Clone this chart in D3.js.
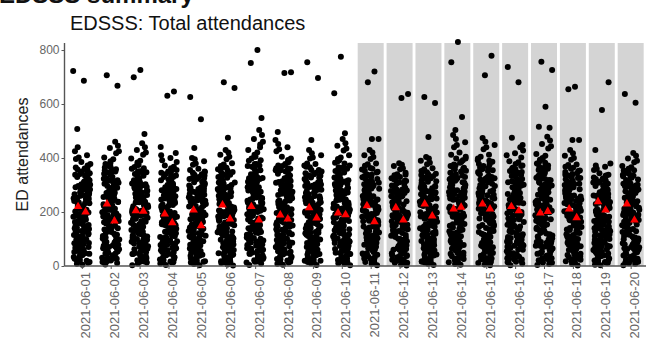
<!DOCTYPE html>
<html>
<head>
<meta charset="utf-8">
<script src="https://cdn.jsdelivr.net/npm/d3@7"></script>
<style>
  body { margin: 0; background: #fff; }
  svg { display: block; font-family: 'Liberation Sans', Arial, sans-serif; }
</style>
</head>
<body>
<svg id="chart" width="646" height="345"></svg>
<script>
const days = ['2021-06-01', '2021-06-02', '2021-06-03', '2021-06-04', '2021-06-05',
    '2021-06-06', '2021-06-07', '2021-06-08', '2021-06-09', '2021-06-10',
    '2021-06-11', '2021-06-12', '2021-06-13', '2021-06-14', '2021-06-15',
    '2021-06-16', '2021-06-17', '2021-06-18', '2021-06-19', '2021-06-20'];

// days shaded grey in the panel
const shadedDays = days.slice(10);

const yTicks = [0, 200, 400, 600, 800];

// high attendances that stand clear of each day's cloud
const outliers = [
    [722, 686, 507], [707, 668], [726, 699, 489], [646, 631, 441], [626, 544, 437],
    [681, 659, 475], [800, 752, 548], [718, 715, 496], [755, 696, 467], [775, 640, 492],
    [720, 681, 470, 470], [637, 622], [626, 604, 478], [830, 755, 552, 504], [779, 707],
    [737, 681, 475, 448], [757, 726, 590, 516, 512], [664, 655, 467, 467], [681, 578, 430], [637, 605]
];

// red triangle markers, two per day
const redMarks = [
    [220, 200], [230, 167], [205, 203], [193, 160], [207, 149],
    [226, 174], [220, 170], [189, 174], [216, 178], [196, 190],
    [223, 164], [216, 170], [230, 185], [211, 218], [230, 211],
    [220, 205], [196, 202], [211, 179], [238, 207], [230, 170]
];

// the dense body of each day's points, full range
const cloud01 = [12, 385, 140, 262, 55, 318, 201, 97, 410, 176, 33, 289, 228, 120, 350, 68, 245, 190, 301, 150, 8, 372, 214, 84, 333, 160, 270, 41, 396, 236, 108, 182, 312, 59, 255, 130, 425, 205, 91, 344, 168, 23, 279, 222, 115, 361, 74, 248, 195, 292, 146, 18, 378, 210, 80, 326, 157, 266, 47, 402, 232, 104, 186, 307, 63, 251, 127, 440, 198, 88, 338, 171, 28, 283, 219, 112, 356, 77, 241, 184, 296, 137, 5, 365, 208, 101];
const cloud02 = [20, 402, 151, 275, 62, 330, 210, 93, 437, 183, 38, 296, 237, 126, 365, 71, 258, 199, 312, 158, 11, 388, 222, 87, 346, 167, 281, 46, 418, 243, 111, 190, 322, 54, 264, 135, 460, 213, 98, 355, 174, 27, 288, 229, 119, 372, 79, 252, 204, 303, 149, 15, 395, 217, 83, 339, 162, 271, 50, 425, 240, 106, 194, 317, 66, 260, 131, 445, 207, 91, 350, 178, 31, 292, 226, 116, 380, 75, 248, 188, 308, 143, 6, 358, 215, 102];
const cloud03 = [9, 398, 146, 268, 51, 325, 206, 99, 430, 179, 36, 293, 233, 123, 360, 70, 254, 196, 306, 153, 17, 383, 219, 86, 341, 164, 277, 44, 412, 240, 109, 187, 318, 57, 261, 133, 455, 211, 95, 351, 173, 25, 285, 225, 118, 367, 78, 250, 200, 299, 147, 13, 390, 215, 82, 335, 160, 272, 48, 420, 236, 105, 191, 313, 64, 257, 129, 440, 203, 90, 346, 176, 30, 289, 221, 113, 375, 73, 245, 185, 303, 139, 3, 355, 209, 97];
const cloud04 = [14, 372, 138, 255, 52, 305, 198, 92, 400, 171, 32, 278, 222, 117, 340, 66, 241, 186, 290, 148, 9, 362, 209, 81, 320, 155, 262, 40, 385, 230, 103, 178, 300, 58, 248, 127, 419, 201, 88, 330, 165, 24, 270, 217, 110, 350, 73, 236, 190, 285, 142, 17, 368, 205, 78, 315, 152, 258, 45, 392, 226, 100, 182, 296, 62, 244, 124, 410, 194, 85, 335, 168, 28, 274, 213, 107, 345, 70, 233, 180, 281, 134, 4, 356, 202, 96];
const cloud05 = [18, 360, 135, 248, 49, 298, 192, 89, 388, 166, 30, 270, 216, 112, 330, 63, 236, 181, 282, 143, 7, 350, 204, 78, 312, 150, 255, 38, 375, 224, 99, 173, 292, 55, 242, 121, 400, 196, 84, 322, 160, 22, 264, 210, 106, 340, 69, 230, 185, 276, 138, 14, 356, 200, 75, 306, 147, 250, 42, 380, 220, 96, 177, 288, 59, 239, 118, 395, 189, 81, 326, 163, 26, 267, 207, 103, 335, 66, 227, 175, 273, 130, 3, 345, 198, 93];
const cloud06 = [11, 381, 142, 260, 54, 316, 203, 95, 412, 174, 35, 285, 226, 119, 348, 67, 247, 192, 298, 151, 6, 370, 212, 83, 330, 158, 268, 43, 395, 234, 106, 184, 309, 60, 253, 128, 430, 206, 90, 340, 170, 25, 280, 220, 113, 358, 75, 244, 197, 290, 145, 16, 376, 208, 79, 325, 156, 264, 47, 405, 230, 102, 188, 304, 64, 250, 125, 420, 200, 87, 336, 167, 29, 276, 217, 110, 352, 72, 240, 183, 294, 136, 2, 364, 205, 99];
const cloud07 = [16, 430, 158, 290, 60, 350, 222, 101, 470, 192, 37, 318, 250, 131, 390, 73, 272, 210, 330, 165, 9, 412, 235, 88, 368, 176, 298, 46, 450, 258, 116, 200, 340, 56, 280, 140, 504, 226, 94, 378, 184, 27, 305, 242, 122, 398, 80, 266, 214, 322, 160, 13, 420, 230, 85, 360, 172, 292, 50, 460, 254, 112, 205, 335, 66, 276, 136, 485, 218, 97, 372, 188, 31, 310, 246, 126, 405, 77, 262, 196, 326, 150, 4, 440, 228, 106];
const cloud08 = [13, 405, 150, 277, 57, 335, 212, 96, 440, 183, 34, 300, 240, 125, 370, 70, 261, 201, 315, 160, 8, 393, 225, 86, 350, 170, 283, 45, 425, 246, 112, 192, 325, 55, 266, 134, 467, 216, 92, 360, 177, 26, 292, 232, 118, 378, 77, 255, 205, 308, 152, 14, 398, 220, 82, 343, 165, 275, 48, 432, 243, 108, 196, 320, 63, 263, 130, 452, 209, 89, 355, 180, 30, 296, 228, 115, 385, 74, 251, 190, 311, 145, 5, 362, 218, 100];
const cloud09 = [19, 378, 144, 258, 50, 312, 205, 98, 410, 172, 33, 288, 229, 121, 345, 65, 249, 190, 300, 154, 10, 372, 214, 80, 328, 161, 270, 41, 398, 236, 104, 186, 306, 58, 255, 126, 430, 209, 88, 338, 168, 21, 282, 223, 111, 356, 76, 243, 195, 293, 147, 15, 380, 210, 77, 322, 158, 266, 44, 402, 232, 101, 180, 302, 62, 251, 123, 418, 202, 85, 334, 174, 28, 278, 218, 108, 350, 70, 238, 181, 297, 139, 4, 366, 207, 95];
const cloud10 = [10, 410, 152, 280, 59, 338, 215, 97, 445, 186, 35, 304, 243, 127, 372, 72, 263, 203, 318, 162, 7, 396, 227, 87, 352, 172, 286, 44, 428, 249, 113, 194, 328, 56, 268, 136, 470, 218, 93, 362, 179, 25, 295, 235, 120, 382, 79, 258, 208, 311, 154, 15, 402, 222, 83, 346, 167, 278, 49, 435, 245, 109, 198, 322, 64, 265, 132, 455, 211, 90, 358, 182, 29, 299, 231, 116, 388, 75, 254, 192, 314, 147, 3, 366, 220, 103];
const cloud11 = [15, 380, 143, 259, 53, 314, 204, 96, 410, 173, 34, 286, 227, 120, 346, 66, 248, 191, 299, 152, 8, 371, 213, 82, 329, 160, 269, 42, 396, 235, 105, 185, 308, 59, 254, 127, 430, 207, 89, 339, 169, 24, 281, 221, 112, 357, 74, 242, 196, 291, 146, 12, 377, 209, 78, 324, 157, 265, 46, 404, 231, 103, 187, 303, 63, 251, 124, 420, 201, 86, 335, 166, 30, 277, 216, 109, 353, 71, 239, 182, 295, 137, 3, 363, 206, 98];
const cloud12 = [12, 345, 130, 236, 47, 284, 184, 86, 370, 158, 29, 258, 206, 107, 315, 60, 225, 172, 268, 136, 6, 336, 194, 74, 298, 143, 243, 37, 358, 214, 95, 165, 278, 53, 231, 115, 381, 188, 80, 306, 153, 21, 252, 200, 101, 325, 66, 219, 176, 262, 131, 14, 340, 191, 71, 292, 140, 238, 40, 362, 210, 92, 168, 274, 56, 228, 112, 375, 181, 77, 310, 155, 25, 255, 197, 98, 320, 63, 216, 166, 260, 124, 2, 330, 186, 89];
const cloud13 = [17, 362, 137, 250, 50, 300, 194, 91, 390, 167, 31, 272, 218, 114, 332, 64, 238, 183, 284, 145, 8, 352, 206, 79, 314, 152, 257, 39, 377, 226, 100, 175, 294, 56, 244, 122, 404, 198, 85, 324, 162, 23, 266, 212, 108, 342, 70, 232, 187, 278, 140, 13, 358, 202, 76, 308, 149, 252, 43, 382, 222, 97, 179, 290, 60, 241, 119, 398, 191, 82, 328, 164, 27, 269, 209, 105, 337, 67, 229, 177, 275, 132, 4, 347, 199, 94];
const cloud14 = [14, 420, 155, 286, 58, 345, 218, 99, 458, 189, 36, 310, 247, 129, 382, 72, 268, 207, 325, 163, 7, 405, 231, 87, 360, 174, 292, 45, 440, 253, 114, 197, 335, 57, 274, 138, 485, 222, 93, 370, 181, 26, 300, 239, 121, 392, 78, 262, 211, 318, 156, 12, 412, 226, 84, 353, 169, 284, 49, 448, 250, 110, 201, 330, 65, 271, 134, 470, 215, 90, 365, 185, 30, 305, 235, 117, 398, 76, 259, 194, 321, 149, 5, 376, 224, 104];
const cloud15 = [11, 412, 152, 281, 56, 340, 214, 98, 448, 186, 35, 305, 243, 126, 376, 71, 264, 204, 320, 161, 6, 398, 228, 85, 355, 172, 288, 44, 432, 250, 112, 195, 330, 57, 270, 136, 474, 219, 92, 364, 179, 25, 296, 236, 119, 386, 77, 259, 209, 313, 153, 13, 405, 223, 82, 348, 167, 280, 48, 440, 247, 108, 199, 325, 64, 267, 132, 460, 212, 89, 360, 183, 29, 300, 232, 115, 392, 74, 256, 192, 316, 146, 3, 370, 221, 101];
const cloud16 = [16, 388, 146, 264, 55, 320, 208, 97, 418, 177, 34, 292, 232, 122, 352, 68, 252, 195, 305, 155, 9, 378, 216, 84, 336, 163, 274, 43, 402, 239, 107, 189, 314, 60, 258, 129, 440, 210, 91, 345, 172, 24, 286, 226, 114, 364, 76, 246, 199, 297, 149, 14, 384, 212, 80, 330, 160, 270, 47, 410, 235, 104, 191, 310, 63, 255, 126, 428, 204, 88, 342, 170, 29, 282, 222, 111, 358, 72, 243, 186, 301, 140, 3, 370, 209, 100];
const cloud17 = [13, 415, 154, 283, 57, 342, 216, 98, 452, 188, 36, 308, 245, 128, 380, 71, 266, 205, 322, 162, 7, 400, 229, 86, 358, 173, 290, 45, 435, 251, 113, 196, 332, 58, 272, 137, 479, 220, 92, 367, 180, 25, 298, 237, 120, 388, 78, 260, 210, 315, 155, 12, 408, 224, 83, 350, 168, 282, 48, 444, 248, 109, 200, 327, 65, 269, 133, 465, 213, 89, 362, 184, 29, 302, 233, 116, 395, 75, 257, 193, 318, 148, 4, 372, 223, 103];
const cloud18 = [18, 376, 141, 257, 51, 312, 202, 94, 408, 171, 32, 284, 225, 118, 344, 64, 246, 189, 297, 150, 7, 368, 211, 80, 326, 157, 267, 40, 394, 233, 103, 183, 305, 57, 252, 125, 430, 205, 87, 336, 166, 22, 279, 219, 110, 354, 73, 240, 194, 289, 144, 11, 374, 207, 77, 321, 155, 262, 45, 400, 229, 100, 185, 300, 61, 249, 122, 418, 199, 84, 332, 164, 27, 274, 214, 107, 348, 69, 237, 180, 292, 135, 2, 360, 203, 96];
const cloud19 = [13, 344, 129, 235, 46, 283, 183, 85, 368, 157, 28, 257, 205, 106, 313, 59, 224, 171, 267, 135, 5, 334, 193, 73, 297, 142, 242, 36, 356, 213, 94, 164, 276, 52, 230, 114, 380, 187, 79, 305, 152, 20, 251, 199, 100, 324, 65, 218, 175, 261, 130, 15, 338, 190, 70, 291, 139, 237, 39, 360, 209, 91, 167, 273, 55, 227, 111, 372, 180, 76, 309, 154, 24, 254, 196, 97, 318, 62, 215, 165, 259, 123, 3, 328, 185, 88];
const cloud20 = [10, 370, 137, 254, 51, 306, 197, 93, 398, 170, 31, 277, 221, 116, 338, 65, 240, 185, 289, 147, 8, 360, 208, 80, 319, 154, 261, 39, 384, 229, 102, 177, 299, 57, 247, 126, 419, 200, 87, 329, 164, 23, 269, 216, 109, 349, 72, 235, 189, 284, 141, 16, 366, 204, 77, 314, 151, 257, 44, 390, 225, 99, 181, 295, 61, 243, 123, 408, 193, 84, 334, 167, 27, 273, 212, 106, 344, 69, 232, 179, 280, 133, 3, 355, 201, 95];

// more points in the packed core of each day
const core01 = [45, 298, 172, 87, 341, 226, 131, 265, 19, 312, 189, 73, 357, 244, 152, 98, 284, 207, 36, 330, 163, 117, 250, 60, 303, 218, 142, 27, 370, 193, 81, 276, 235, 125, 52, 320, 180, 93, 260, 211, 156, 15, 345, 232, 108, 290, 167, 66, 308, 198, 135, 42, 273, 221, 149, 85, 335, 176, 111, 24, 253, 202, 70, 317];
const core02 = [50, 305, 178, 92, 352, 231, 137, 270, 23, 318, 195, 77, 366, 250, 157, 103, 290, 212, 40, 338, 168, 121, 256, 64, 310, 224, 147, 31, 378, 199, 86, 282, 241, 129, 56, 327, 185, 97, 266, 216, 161, 18, 355, 238, 112, 296, 172, 70, 314, 204, 140, 46, 279, 227, 154, 89, 342, 181, 115, 28, 259, 208, 74, 323];
const core03 = [42, 301, 175, 90, 347, 228, 134, 268, 21, 315, 192, 75, 362, 247, 155, 100, 287, 210, 38, 334, 166, 119, 253, 62, 306, 220, 145, 29, 374, 196, 83, 279, 238, 127, 54, 323, 182, 95, 263, 214, 159, 16, 350, 235, 110, 293, 170, 68, 311, 201, 138, 44, 276, 224, 152, 87, 338, 178, 113, 26, 256, 205, 72, 320];
const core04 = [40, 285, 165, 83, 330, 218, 126, 255, 17, 300, 183, 70, 345, 236, 147, 95, 272, 200, 34, 318, 158, 112, 242, 58, 292, 212, 138, 25, 356, 187, 79, 265, 228, 121, 50, 308, 174, 90, 250, 205, 151, 14, 335, 224, 104, 280, 162, 64, 298, 192, 130, 41, 262, 215, 144, 82, 322, 170, 107, 22, 246, 196, 67, 305];
const core05 = [38, 278, 160, 80, 322, 212, 122, 248, 16, 292, 178, 68, 338, 230, 143, 92, 266, 195, 33, 310, 154, 109, 236, 56, 285, 206, 134, 24, 348, 182, 76, 258, 222, 118, 48, 300, 169, 87, 244, 200, 147, 13, 326, 218, 101, 273, 157, 62, 290, 187, 127, 40, 255, 209, 140, 79, 314, 166, 104, 21, 240, 191, 65, 296];
const core06 = [44, 294, 170, 86, 338, 224, 130, 262, 18, 309, 187, 72, 354, 242, 150, 97, 281, 205, 35, 327, 161, 115, 248, 59, 300, 216, 140, 26, 366, 191, 80, 273, 233, 123, 51, 317, 178, 92, 258, 209, 154, 14, 342, 230, 106, 287, 165, 65, 305, 196, 133, 41, 270, 219, 147, 84, 332, 174, 109, 23, 250, 200, 69, 314];
const core07 = [48, 320, 185, 94, 370, 245, 141, 285, 21, 336, 203, 78, 392, 262, 163, 104, 305, 222, 39, 355, 176, 124, 270, 64, 325, 233, 152, 29, 405, 208, 87, 296, 252, 134, 55, 345, 192, 100, 280, 226, 168, 17, 378, 248, 116, 312, 180, 71, 330, 214, 145, 45, 292, 236, 160, 91, 362, 188, 119, 26, 275, 218, 75, 340];
const core08 = [46, 308, 178, 90, 355, 234, 136, 274, 20, 322, 196, 76, 372, 252, 157, 101, 293, 214, 37, 342, 170, 120, 260, 62, 314, 225, 147, 28, 385, 202, 84, 285, 243, 129, 53, 332, 186, 96, 268, 218, 162, 16, 362, 240, 112, 300, 175, 69, 318, 207, 140, 43, 281, 229, 154, 88, 350, 182, 116, 25, 263, 210, 73, 328];
const core09 = [43, 296, 171, 88, 340, 225, 131, 263, 19, 310, 188, 74, 356, 243, 151, 98, 282, 206, 36, 328, 162, 116, 249, 60, 302, 217, 141, 27, 368, 192, 81, 274, 234, 124, 52, 318, 179, 93, 259, 210, 155, 15, 344, 231, 107, 288, 166, 66, 306, 197, 134, 42, 271, 220, 148, 85, 334, 175, 110, 24, 251, 201, 70, 315];
const core10 = [47, 312, 180, 92, 360, 238, 138, 278, 22, 326, 199, 77, 380, 256, 159, 102, 297, 217, 38, 346, 172, 122, 264, 63, 318, 228, 149, 30, 392, 204, 85, 289, 246, 131, 54, 336, 188, 98, 272, 221, 164, 17, 366, 243, 114, 304, 177, 70, 322, 209, 142, 44, 285, 232, 156, 89, 355, 184, 118, 26, 267, 213, 74, 332];
const core11 = [52, 287, 168, 95, 333, 219, 126, 258, 25, 304, 184, 79, 349, 238, 146, 104, 276, 202, 41, 322, 158, 112, 244, 66, 296, 213, 137, 31, 360, 189, 86, 269, 229, 119, 57, 312, 175, 99, 254, 206, 151, 20, 338, 226, 102, 283, 163, 71, 300, 193, 130, 47, 265, 216, 143, 90, 328, 171, 106, 28, 246, 197, 76, 309];
const core12 = [40, 270, 157, 80, 310, 206, 118, 240, 16, 282, 170, 66, 324, 221, 138, 89, 257, 188, 32, 298, 148, 105, 228, 54, 275, 197, 128, 23, 338, 175, 73, 250, 213, 112, 47, 290, 163, 84, 236, 192, 142, 12, 316, 210, 98, 265, 152, 60, 280, 180, 122, 38, 246, 201, 135, 77, 304, 160, 100, 20, 232, 184, 63, 286];
const core13 = [42, 282, 163, 83, 325, 214, 124, 252, 17, 296, 179, 69, 340, 232, 145, 93, 268, 197, 34, 312, 155, 110, 238, 57, 288, 207, 134, 25, 352, 183, 77, 262, 224, 117, 49, 303, 171, 88, 247, 201, 148, 13, 330, 220, 102, 277, 159, 63, 293, 189, 128, 40, 258, 211, 141, 80, 318, 167, 105, 22, 242, 193, 66, 299];
const core14 = [49, 316, 182, 93, 364, 241, 139, 281, 21, 331, 200, 78, 386, 259, 161, 103, 301, 220, 39, 350, 174, 123, 267, 64, 321, 230, 150, 29, 398, 206, 86, 292, 249, 132, 55, 340, 190, 99, 276, 223, 166, 17, 372, 245, 115, 308, 178, 70, 326, 211, 143, 45, 288, 234, 158, 90, 358, 186, 120, 26, 271, 215, 75, 336];
const core15 = [47, 310, 179, 91, 358, 236, 137, 276, 20, 324, 197, 76, 378, 254, 158, 101, 295, 216, 38, 344, 171, 121, 262, 62, 316, 226, 148, 28, 390, 203, 84, 287, 245, 130, 53, 334, 187, 97, 270, 219, 163, 16, 364, 241, 113, 302, 176, 69, 320, 208, 141, 44, 283, 230, 155, 88, 352, 183, 117, 25, 265, 211, 73, 330];
const core16 = [45, 300, 173, 89, 345, 228, 133, 267, 19, 314, 191, 75, 360, 246, 153, 99, 285, 209, 36, 333, 165, 118, 252, 61, 306, 220, 143, 27, 372, 195, 82, 278, 237, 126, 52, 322, 181, 94, 262, 213, 157, 15, 348, 234, 109, 292, 169, 67, 310, 200, 136, 43, 275, 223, 150, 86, 338, 178, 112, 24, 255, 204, 71, 318];
const core17 = [48, 312, 181, 92, 360, 238, 138, 278, 21, 327, 199, 77, 382, 256, 160, 102, 298, 218, 39, 347, 173, 122, 264, 63, 319, 228, 149, 29, 394, 205, 85, 290, 247, 131, 54, 337, 189, 98, 273, 222, 165, 17, 368, 243, 114, 305, 177, 70, 323, 210, 142, 45, 286, 232, 157, 89, 356, 185, 118, 26, 268, 213, 74, 333];
const core18 = [43, 293, 169, 86, 338, 223, 130, 261, 18, 308, 186, 73, 352, 241, 150, 97, 280, 204, 35, 326, 161, 115, 247, 59, 300, 215, 140, 26, 364, 190, 80, 272, 232, 123, 51, 316, 177, 92, 257, 208, 154, 14, 341, 229, 106, 286, 165, 65, 304, 195, 133, 41, 269, 218, 147, 84, 331, 173, 109, 23, 249, 199, 69, 312];
const core19 = [39, 268, 155, 79, 308, 204, 117, 238, 15, 280, 168, 65, 322, 219, 137, 88, 255, 186, 31, 296, 146, 104, 226, 53, 273, 195, 127, 22, 335, 173, 72, 248, 211, 111, 46, 288, 161, 83, 234, 190, 140, 12, 314, 208, 97, 263, 150, 59, 278, 178, 121, 37, 244, 199, 133, 76, 302, 158, 99, 19, 230, 182, 62, 284];
const core20 = [41, 283, 164, 83, 327, 216, 125, 253, 17, 298, 180, 70, 342, 234, 146, 94, 270, 198, 34, 314, 156, 111, 240, 57, 290, 209, 135, 25, 354, 185, 77, 263, 226, 118, 49, 305, 172, 89, 249, 203, 149, 13, 332, 222, 103, 279, 160, 63, 295, 190, 129, 40, 260, 212, 142, 80, 320, 168, 106, 22, 244, 194, 66, 301];

const clouds = [cloud01, cloud02, cloud03, cloud04, cloud05, cloud06, cloud07, cloud08, cloud09, cloud10,
    cloud11, cloud12, cloud13, cloud14, cloud15, cloud16, cloud17, cloud18, cloud19, cloud20];
const cores = [core01, core02, core03, core04, core05, core06, core07, core08, core09, core10,
    core11, core12, core13, core14, core15, core16, core17, core18, core19, core20];

const margin = { top: 43, right: -2, bottom: 79, left: 64.5 };
const width = 646;
const height = 345;

const svg = d3.select('#chart');

const x = d3.scalePoint()
    .domain(days)
    .range([margin.left, width - margin.right])
    .padding(0.6);

const y = d3.scaleLinear()
    .domain([0, 826])
    .range([height - margin.bottom, margin.top]);

const step = x.step();

// deterministic jitter so points of one day spread across its column
function jitter(i, d, amount) {
    const f = (i * 0.6180339887 + d * 0.2718) % 1;
    return (f * 2 - 1) * amount * step;
}

// grey panels behind the later days
svg.append('g')
    .attr('class', 'panels')
    .selectAll('rect')
    .data(shadedDays)
    .enter()
    .append('rect')
        .attr('x', d => x(d) - 0.45 * step)
        .attr('y', margin.top)
        .attr('width', 0.9 * step)
        .attr('height', y(0) - margin.top)
        .attr('fill', '#d4d4d4');

// flatten to one point per attendance value
const points = [];
days.forEach((day, d) => {
    outliers[d].concat(clouds[d]).forEach((v, i) => {
        points.push({ day: day, value: v, dx: jitter(i, d, 0.3) });
    });
    cores[d].forEach((v, i) => {
        points.push({ day: day, value: v, dx: jitter(i * 3 + 1, d + 5, 0.27) });
    });
});

svg.append('g')
    .attr('class', 'points')
    .selectAll('circle')
    .data(points)
    .enter()
    .append('circle')
        .attr('cx', d => x(d.day) + d.dx)
        .attr('cy', d => y(d.value))
        .attr('r', 3)
        .attr('fill', '#000');

const marks = [];
days.forEach((day, d) => {
    redMarks[d].forEach((v, i) => {
        marks.push({ day: day, value: v, dx: (i === 0 ? -0.13 : 0.13) * step });
    });
});

svg.append('g')
    .attr('class', 'marks')
    .selectAll('path')
    .data(marks)
    .enter()
    .append('path')
        .attr('d', d3.symbol().type(d3.symbolTriangle).size(32))
        .attr('transform', d => `translate(${x(d.day) + d.dx},${y(d.value)})`)
        .attr('fill', '#ff0000');

// axes
const yAxis = svg.append('g')
    .attr('transform', `translate(${margin.left},0)`)
    .call(d3.axisLeft(y).tickValues(yTicks).tickSize(3).tickPadding(2));

const xAxis = svg.append('g')
    .attr('transform', `translate(0,${y(0)})`)
    .call(d3.axisBottom(x).tickSize(3).tickFormat(''));

[yAxis, xAxis].forEach(g => {
    g.select('.domain').attr('stroke', '#555').attr('stroke-width', 1.4);
    g.selectAll('.tick line').attr('stroke', '#555');
});
yAxis.select('.domain').attr('d', `M0,${margin.top}V${y(0)}`);
xAxis.select('.domain').attr('d', `M${margin.left},0H${width}`);

yAxis.selectAll('.tick text')
    .attr('fill', '#666')
    .style('font-size', '12px');

// rotated date labels
svg.append('g')
    .attr('class', 'x-labels')
    .selectAll('text')
    .data(days)
    .enter()
    .append('text')
        .attr('transform', d => `translate(${x(d) + 4},${y(0) + 6}) rotate(-90)`)
        .attr('text-anchor', 'end')
        .attr('dy', '0.35em')
        .attr('fill', '#666')
        .style('font-size', '13px')
        .text(d => d);

svg.append('text')
    .attr('transform', `translate(22,${(margin.top + y(0)) / 2}) rotate(-90)`)
    .attr('text-anchor', 'middle')
    .attr('dy', '0.35em')
    .attr('fill', '#222')
    .style('font-size', '16px')
    .text('ED attendances');

svg.append('text')
    .attr('x', 70)
    .attr('y', 30)
    .attr('fill', '#111')
    .style('font-size', '20px')
    .text('EDSSS: Total attendances');

// heading above, cut off by the top edge as in the source
svg.append('text')
    .attr('x', -1)
    .attr('y', 3)
    .attr('fill', '#111')
    .style('font-size', '24px')
    .style('font-weight', 'bold')
    .text('EDSSS summary');
</script>
</body>
</html>
